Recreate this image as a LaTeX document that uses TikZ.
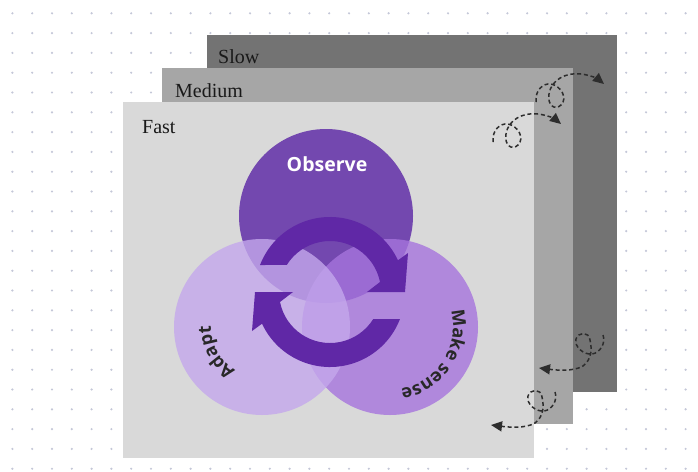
\documentclass[tikz,border=0pt]{standalone}
\usepackage{fontspec}
\setmainfont{Liberation Serif}
\newfontfamily\osans{Open Sans}
\usetikzlibrary{arrows.meta,decorations.text}

\definecolor{dotgray}{RGB}{196,199,216}
\definecolor{slowgray}{RGB}{115,115,115}
\definecolor{medgray}{RGB}{166,166,166}
\definecolor{fastgray}{RGB}{217,217,217}
\definecolor{obspurple}{RGB}{115,72,175}
\definecolor{adpurple}{RGB}{196,168,236}
\definecolor{mkpurple}{RGB}{166,116,221}
\definecolor{cycpurple}{RGB}{96,40,166}
\definecolor{curlgray}{RGB}{45,45,45}
\definecolor{ringtext}{RGB}{40,40,40}

\newcommand\ringfont{\osans\bfseries\fontsize{18}{20}\selectfont\color{ringtext}}

\tikzset{
  speed/.style={font=\fontsize{20}{24}\selectfont, anchor=base west, text=black!90, inner sep=0pt},
  curl/.style={curlgray, line width=1.5pt, dash pattern=on 4pt off 2.8pt, -{Triangle[length=11pt,width=10pt]}},
  blob/.style={fill opacity=0.8},
  ringlabel/.style={decorate, decoration={text along path, text align=center, text={|\ringfont|#1}}},
}

\begin{document}
\begin{tikzpicture}[x=1pt,y=1pt]
\useasboundingbox (0,0) rectangle (698,-471);
\fill[white] (0,0) rectangle (698,-471);

% dotted backdrop
\foreach \i in {0,...,34}
  \foreach \j in {0,...,23}
    \fill[dotgray] ({12.4+19.8*\i},{-13.3-19.8*\j}) circle (1.2pt);

% the three layers, slow at the back
\fill[slowgray] (207,-35) rectangle (617,-392);
\fill[medgray] (162,-68) rectangle (573,-424);
\fill[fastgray] (123,-102) rectangle (534,-458);
\node[speed] (slow) at (218,-63) {Slow};
\node[speed] (medium) at (175,-97) {Medium};
\node[speed] (fast) at (142,-133) {Fast};

% curly hand-offs going up
\foreach \sx/\sy in {536/-102, 493/-142}
{
  \begin{scope}[shift={(\sx,\sy)}]
    \draw[curl] (0,0) .. controls (-1,12) and (7,19) .. (15,18)
      .. controls (25,16) and (32,4) .. (25,-3)
      .. controls (19,-9) and (11,-3) .. (13,8)
      .. controls (15,22) and (30,30) .. (45,28)
      .. controls (54,27) and (62,23) .. (68,18);
  \end{scope}
}
% ... and coming back down
\foreach \sx/\sy in {603/-335, 555/-392}
{
  \begin{scope}[shift={(\sx,\sy)}]
    \draw[curl] (0,0) .. controls (3,-8) and (-3,-18) .. (-11,-19)
      .. controls (-19,-20) and (-29,-12) .. (-27,-4)
      .. controls (-25,3) and (-14,4) .. (-13,-5)
      .. controls (-11,-14) and (-11,-24) .. (-20,-31)
      .. controls (-30,-37) and (-48,-35) .. (-64,-33);
  \end{scope}
}

% the three circles
\fill[obspurple] (326,-216) circle (87);
\fill[mkpurple, blob] (390,-327) circle (88);
\fill[adpurple, blob] (262,-327) circle (88);

% cycle in the middle
\begin{scope}[shift={(330,-292)}]
  \foreach \r in {0,180}
    \fill[cycpurple, rotate=\r] (158.9:75) arc[start angle=158.9, end angle=25, radius=75]
      -- (78,39) -- (75,0) -- (37,0) -- (11.3:51)
      arc[start angle=11.3, end angle=148, radius=51] -- cycle;
\end{scope}

\node[font=\osans\bfseries\fontsize{19.5}{22}\selectfont, text=white, anchor=base] (observe) at (327,-171) {Observe};
\path[ringlabel={Make sense}] (390,-327) ++(45:63) arc[start angle=45, end angle=-110, radius=63];
\path[ringlabel={Adapt}] (262,-327) ++(260:51) arc[start angle=260, end angle=157, radius=51];
\end{tikzpicture}
\end{document}
